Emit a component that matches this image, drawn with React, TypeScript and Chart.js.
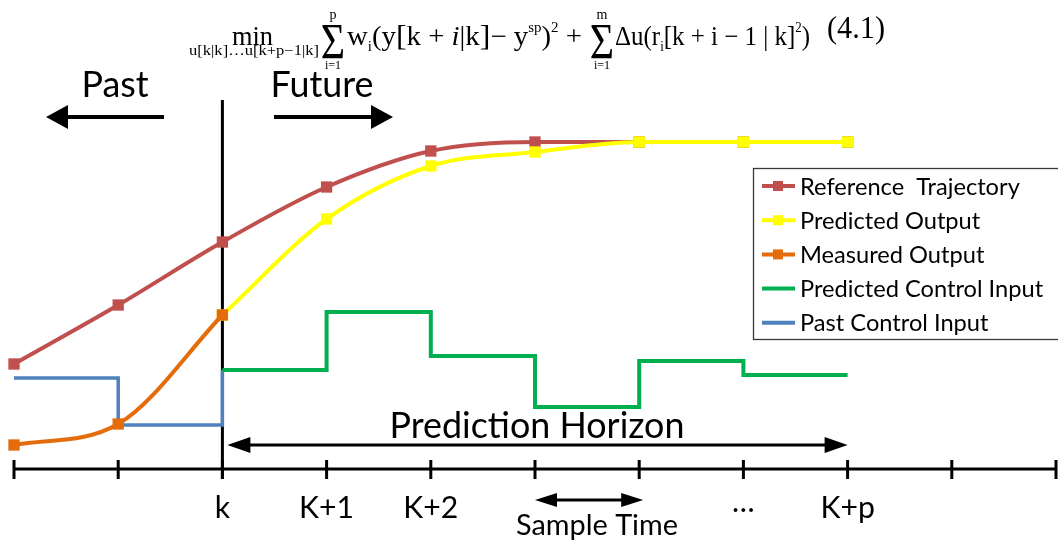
import React, { useEffect, useRef } from "react";
import { Chart, registerables } from "chart.js";

Chart.register(...registerables);

// ---- data ----
const tickValues = [0, 1, 2, 3, 4, 5, 6, 7, 8, 9, 10];
const tickLabels = ["", "", "k", "K+1", "K+2", "", "", "\u2026", "K+p", "", ""];

const referenceX = [0, 1, 2, 3, 4, 5, 6, 7, 8];
const referenceY = [10.5, 16.4, 22.7, 28.2, 31.8, 32.7, 32.7, 32.7, 32.7];

const predictedX = [2, 3, 4, 5, 6, 7, 8];
const predictedY = [15.4, 25.0, 30.3, 31.7, 32.7, 32.7, 32.7];

const measuredX = [0, 1, 2];
const measuredY = [2.4, 4.5, 15.4];

const controlX = [2, 3, 4, 5, 6, 7, 8];
const controlY = [9.9, 15.7, 11.3, 6.2, 10.8, 9.4, 9.4];

const pastControlX = [0, 1, 2];
const pastControlY = [9.1, 4.4, 9.9];

const seriesNames = [
  "Reference  Trajectory",
  "Predicted Output",
  "Measured Output",
  "Predicted Control Input",
  "Past Control Input",
];
const seriesColors = ["#C0504D", "#FFFF00", "#E46C0A", "#00B050", "#4F81BD"];
const seriesMarkers = [true, true, true, false, false];

const LABEL_FONT = "Lato, 'Open Sans', sans-serif";
const MATH_FONT = "'Liberation Serif', 'Times New Roman', serif";

const pts = (xs: number[], ys: number[]) => xs.map((x, i) => ({ x, y: ys[i] }));

function fitSize(ctx: CanvasRenderingContext2D, text: string, width: number, family: string) {
  ctx.font = `100px ${family}`;
  const w = ctx.measureText(text).width;
  return (100 * width) / w;
}

function head(ctx: CanvasRenderingContext2D, tip: number, y: number, dir: number, len: number, half: number) {
  ctx.beginPath();
  ctx.moveTo(tip, y);
  ctx.lineTo(tip - dir * len, y - half);
  ctx.lineTo(tip - dir * len, y + half);
  ctx.closePath();
  ctx.fill();
}

function arrow(
  ctx: CanvasRenderingContext2D,
  from: number,
  to: number,
  y: number,
  lw: number,
  len: number,
  half: number,
  both: boolean
) {
  const dir = to > from ? 1 : -1;
  ctx.lineWidth = lw;
  ctx.beginPath();
  ctx.moveTo(both ? from + dir * (len - 2) : from, y);
  ctx.lineTo(to - dir * (len - 2), y);
  ctx.stroke();
  head(ctx, to, y, dir, len, half);
  if (both) head(ctx, from, y, -dir, len, half);
}

type Run = { t: string; s: number; dy?: number; it?: boolean };

function runFont(r: Run) {
  return `${r.it ? "italic " : ""}${r.s}px ${MATH_FONT}`;
}

function drawRuns(ctx: CanvasRenderingContext2D, runs: Run[], x0: number, x1: number, base: number) {
  let total = 0;
  runs.forEach((r) => {
    ctx.font = runFont(r);
    total += ctx.measureText(r.t).width;
  });
  const sx = (x1 - x0) / total;
  ctx.save();
  ctx.translate(x0, base);
  ctx.scale(sx, 1);
  ctx.textAlign = "left";
  ctx.textBaseline = "alphabetic";
  let x = 0;
  runs.forEach((r) => {
    ctx.font = runFont(r);
    ctx.fillText(r.t, x, r.dy || 0);
    x += ctx.measureText(r.t).width;
  });
  ctx.restore();
}

function drawFormula(ctx: CanvasRenderingContext2D) {
  ctx.fillStyle = "#000";
  drawRuns(ctx, [{ t: "min", s: 27 }], 232, 273, 45);
  drawRuns(ctx, [{ t: "u[k|k]\u2026u[k+p\u22121|k]", s: 14 }], 189, 319, 55);

  const sigma = (cx: number, top: string) => {
    ctx.textAlign = "center";
    ctx.save();
    ctx.translate(cx, 58);
    ctx.scale(0.95, 1.15);
    ctx.font = `44px ${MATH_FONT}`;
    ctx.fillText("\u03A3", 0, 0);
    ctx.restore();
    ctx.font = `14px ${MATH_FONT}`;
    ctx.fillText(top, cx, 19);
    ctx.font = `12px ${MATH_FONT}`;
    ctx.fillText("i=1", cx, 69);
    ctx.textAlign = "left";
  };
  sigma(333, "p");
  drawRuns(
    ctx,
    [
      { t: "w", s: 27 },
      { t: "i", s: 14, dy: 6 },
      { t: "(y", s: 27 },
      { t: "[", s: 30 },
      { t: "k + ", s: 27 },
      { t: "i", s: 27, it: true },
      { t: "|k", s: 27 },
      { t: "]", s: 30 },
      { t: "\u2212 y", s: 27 },
      { t: "sp", s: 14, dy: -13 },
      { t: ")", s: 27 },
      { t: "2", s: 14, dy: -13 },
      { t: " +", s: 27 },
    ],
    347,
    582,
    45
  );
  sigma(602, "m");
  drawRuns(
    ctx,
    [
      { t: "\u0394u(r", s: 27 },
      { t: "i", s: 14, dy: 6 },
      { t: "[k + i \u2212 1 | k]", s: 27 },
      { t: "2", s: 14, dy: -13 },
      { t: ")", s: 27 },
    ],
    615,
    810,
    45
  );
  drawRuns(ctx, [{ t: "(4.1)", s: 31 }], 827, 885, 38);
}

const annotations = {
  id: "mpcAnnotations",
  beforeDatasetsDraw(chart: any) {
    const ctx: CanvasRenderingContext2D = chart.ctx;
    const xs = chart.scales.x;
    const ys = chart.scales.y;
    const axisY = ys.getPixelForValue(0);
    ctx.save();
    ctx.strokeStyle = "#000";
    ctx.lineCap = "butt";
    // "now" line at k
    ctx.lineWidth = 3;
    ctx.beginPath();
    ctx.moveTo(xs.getPixelForValue(2), 100);
    ctx.lineTo(xs.getPixelForValue(2), axisY + 10);
    ctx.stroke();
    // time axis
    ctx.beginPath();
    ctx.moveTo(xs.getPixelForValue(0), axisY);
    ctx.lineTo(xs.getPixelForValue(10), axisY);
    ctx.stroke();
    tickValues.forEach((v) => {
      const px = xs.getPixelForValue(v);
      ctx.beginPath();
      ctx.moveTo(px, axisY - 9);
      ctx.lineTo(px, axisY + 10);
      ctx.stroke();
    });
    ctx.restore();
  },
  afterDraw(chart: any) {
    const ctx: CanvasRenderingContext2D = chart.ctx;
    const xs = chart.scales.x;
    const ys = chart.scales.y;
    const axisY = ys.getPixelForValue(0);
    ctx.save();
    ctx.fillStyle = "#000";
    ctx.strokeStyle = "#000";
    ctx.textBaseline = "alphabetic";

    // tick labels
    const tickSize = fitSize(ctx, "K+1", 55, LABEL_FONT);
    ctx.font = `${tickSize}px ${LABEL_FONT}`;
    ctx.textAlign = "center";
    tickValues.forEach((v, i) => {
      const t = tickLabels[i];
      if (!t) return;
      ctx.fillText(t, xs.getPixelForValue(v), t === "\u2026" ? axisY + 43 : axisY + 49);
    });

    // Past / Future
    const pfSize = fitSize(ctx, "Future", 103, LABEL_FONT);
    ctx.font = `${pfSize}px ${LABEL_FONT}`;
    ctx.fillText("Past", 115, 97);
    ctx.fillText("Future", 322, 97);
    arrow(ctx, 164, 46, 117, 4, 22, 12, false);
    arrow(ctx, 274, 393, 117, 4, 22, 12, false);

    // Prediction horizon
    const phSize = fitSize(ctx, "Prediction Horizon", 295, LABEL_FONT);
    ctx.font = `${phSize}px ${LABEL_FONT}`;
    ctx.fillText("Prediction Horizon", (xs.getPixelForValue(2) + xs.getPixelForValue(8)) / 2 + 2, 438);
    arrow(ctx, xs.getPixelForValue(2) + 5, xs.getPixelForValue(8), 445, 3, 23, 8, true);

    // Sample time
    arrow(ctx, xs.getPixelForValue(5), xs.getPixelForValue(6) + 4, 500, 3, 22, 7, true);
    const stSize = fitSize(ctx, "Sample Time", 162, LABEL_FONT);
    ctx.font = `${stSize}px ${LABEL_FONT}`;
    ctx.fillText("Sample Time", 597, 535);

    // legend
    ctx.fillStyle = "#fff";
    ctx.fillRect(753, 168, 306, 171);
    ctx.strokeStyle = "#3a3a3a";
    ctx.lineWidth = 1.3;
    ctx.strokeRect(753.5, 168.5, 306, 171);
    const lgSize = fitSize(ctx, "Reference  Trajectory", 220, LABEL_FONT);
    seriesNames.forEach((name, i) => {
      const cy = 186 + i * 34.2;
      ctx.strokeStyle = seriesColors[i];
      ctx.lineWidth = 4;
      ctx.beginPath();
      ctx.moveTo(762, cy);
      ctx.lineTo(795, cy);
      ctx.stroke();
      if (seriesMarkers[i]) {
        ctx.fillStyle = seriesColors[i];
        ctx.fillRect(773, cy - 5, 10, 10);
      }
      ctx.fillStyle = "#000";
      ctx.font = `${lgSize}px ${LABEL_FONT}`;
      ctx.textAlign = "left";
      ctx.textBaseline = "middle";
      ctx.fillText(name, 800, cy + 1);
    });
    ctx.textBaseline = "alphabetic";

    drawFormula(ctx);
    ctx.restore();
  },
};

export default function App() {
  const ref = useRef<HTMLCanvasElement | null>(null);

  useEffect(() => {
    if (!ref.current) return;
    const line = (i: number, data: any[], extra: any) => ({
      label: seriesNames[i],
      data,
      borderColor: seriesColors[i],
      backgroundColor: seriesColors[i],
      pointBackgroundColor: seriesColors[i],
      pointBorderWidth: 0,
      pointStyle: "rect",
      pointRadius: seriesMarkers[i] ? 8 : 0,
      borderWidth: 4,
      fill: false,
      ...extra,
    });
    const chart = new Chart(ref.current, {
      type: "line",
      data: {
        datasets: [
          line(0, pts(referenceX, referenceY), { cubicInterpolationMode: "monotone", order: 2 }),
          line(1, pts(predictedX, predictedY), { cubicInterpolationMode: "monotone", order: 1 }),
          line(2, pts(measuredX, measuredY), { cubicInterpolationMode: "monotone", order: 0 }),
          line(3, pts(controlX, controlY), { stepped: true, order: 3 }),
          line(4, pts(pastControlX, pastControlY), { stepped: true, order: 4, borderWidth: 3.5 }),
        ],
      },
      options: {
        responsive: false,
        animation: false,
        devicePixelRatio: 1,
        clip: false as any,
        layout: { autoPadding: false, padding: { left: 14, right: 2, top: 69, bottom: 71 } },
        scales: {
          x: { type: "linear", min: 0, max: 10, display: false },
          y: { type: "linear", min: 0, max: 40, display: false },
        },
        plugins: {
          legend: { display: false },
          tooltip: { enabled: false },
          title: { display: false },
        },
        events: [],
      },
      plugins: [annotations],
    });
    return () => chart.destroy();
  }, []);

  return (
    <div style={{ position: "absolute", left: 0, top: 0, width: 1058, height: 540, background: "#fff" }}>
      <canvas ref={ref} width={1058} height={540} />
    </div>
  );
}
